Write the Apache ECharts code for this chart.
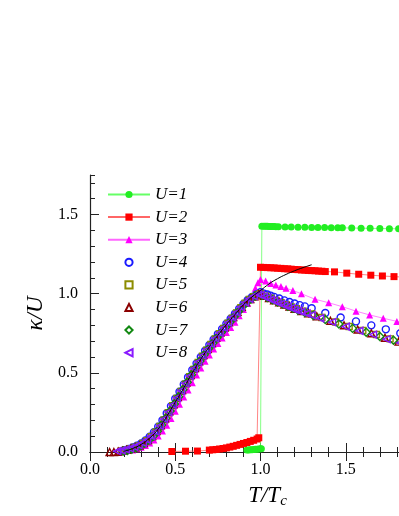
<!DOCTYPE html>
<html><head><meta charset="utf-8">
<script src="https://cdn.jsdelivr.net/npm/echarts@6/dist/echarts.min.js"></script>
<style>html,body{margin:0;padding:0;background:#fff;overflow:hidden;width:399px;height:516px}#c{width:434px;height:516px}</style>
</head><body><div id="c"></div>
<script>
// ---- data ----
const legendNames = ['U=1','U=2','U=3','U=4','U=5','U=6','U=7','U=8'];
const xTicks = [0.0, 0.5, 1.0, 1.5];
const yTicks = [0.0, 0.5, 1.0, 1.5];

const u1X = [0.92,0.93,0.94,0.95,0.96,0.97,0.98,0.99,1.0,1.005,1.008,1.02,1.03,1.04,1.05,1.06,1.07,1.08,1.09,1.105,1.144,1.18,1.22,1.26,1.30,1.337,1.376,1.415,1.453,1.48,1.535,1.59,1.643,1.70,1.756,1.81,1.865,1.92,1.975];
const u1Y = [0.012,0.013,0.014,0.015,0.016,0.017,0.018,0.019,0.02,0.02,1.427,1.427,1.426,1.426,1.425,1.425,1.424,1.424,1.423,1.423,1.422,1.421,1.42,1.42,1.419,1.418,1.418,1.417,1.416,1.416,1.415,1.414,1.413,1.412,1.411,1.41,1.409,1.408,1.407];

const u2X = [0.48,0.56,0.63,0.70,0.72,0.74,0.76,0.78,0.80,0.82,0.84,0.86,0.88,0.90,0.92,0.94,0.96,0.98,0.99,1.0,1.02,1.04,1.06,1.08,1.1,1.12,1.14,1.16,1.18,1.2,1.22,1.24,1.26,1.28,1.3,1.32,1.34,1.36,1.38,1.434,1.506,1.576,1.647,1.715,1.783,1.85,1.92,1.99];
const u2Y = [0.003,0.005,0.006,0.012,0.014,0.016,0.019,0.022,0.026,0.031,0.036,0.042,0.048,0.054,0.06,0.067,0.074,0.082,0.09,1.167,1.166,1.165,1.164,1.163,1.161,1.16,1.158,1.157,1.155,1.153,1.152,1.15,1.149,1.147,1.146,1.145,1.143,1.142,1.14,1.138,1.13,1.123,1.117,1.112,1.108,1.104,1.1,1.096];

const u3X = [0.25,0.275,0.3,0.325,0.35,0.375,0.4,0.425,0.45,0.475,0.5,0.525,0.55,0.575,0.6,0.625,0.65,0.675,0.7,0.725,0.75,0.775,0.8,0.825,0.85,0.875,0.9,0.925,0.95,0.97,0.985,1.0,1.03,1.06,1.09,1.12,1.15,1.19,1.24,1.32,1.40,1.48,1.56,1.64,1.72,1.80,1.88,1.96];
const u3Y = [0.012,0.02,0.03,0.041,0.057,0.076,0.101,0.132,0.169,0.212,0.257,0.302,0.347,0.392,0.438,0.486,0.531,0.573,0.613,0.65,0.686,0.721,0.755,0.787,0.82,0.86,0.90,0.94,0.985,1.035,1.07,1.09,1.08,1.065,1.055,1.045,1.035,1.02,1.0,0.965,0.943,0.918,0.89,0.866,0.845,0.825,0.805,0.785];

const u4X = [0.2,0.225,0.25,0.275,0.3,0.325,0.35,0.375,0.4,0.425,0.45,0.475,0.5,0.525,0.55,0.575,0.6,0.625,0.65,0.675,0.7,0.725,0.75,0.775,0.8,0.825,0.85,0.875,0.9,0.925,0.95,0.975,1.0,1.02,1.04,1.06,1.08,1.11,1.14,1.17,1.2,1.23,1.26,1.30,1.38,1.47,1.56,1.65,1.735,1.82];
const u4Y = [0.012,0.019,0.028,0.04,0.054,0.073,0.096,0.125,0.16,0.2,0.245,0.29,0.336,0.381,0.427,0.472,0.518,0.56,0.601,0.64,0.676,0.711,0.745,0.778,0.81,0.842,0.873,0.905,0.935,0.96,0.98,0.995,1.01,1.0,0.995,0.988,0.98,0.97,0.958,0.948,0.938,0.928,0.92,0.908,0.878,0.85,0.825,0.80,0.775,0.75];

const u5X = [0.185,0.21,0.235,0.26,0.285,0.31,0.335,0.36,0.385,0.41,0.435,0.46,0.485,0.51,0.535,0.56,0.585,0.61,0.635,0.66,0.685,0.71,0.735,0.76,0.785,0.81,0.835,0.86,0.885,0.91,0.935,0.96,0.985,1.0,1.03,1.06,1.09,1.12,1.15,1.18,1.21,1.25,1.3,1.36,1.44,1.52,1.6,1.68,1.76,1.84];
const u5Y = [0.006,0.012,0.019,0.028,0.039,0.054,0.072,0.096,0.125,0.161,0.203,0.248,0.293,0.338,0.383,0.429,0.476,0.522,0.565,0.605,0.643,0.679,0.714,0.748,0.781,0.813,0.846,0.878,0.911,0.94,0.963,0.981,0.994,1.0,0.985,0.971,0.958,0.944,0.93,0.917,0.905,0.89,0.872,0.85,0.821,0.793,0.768,0.742,0.715,0.69];

const u6X = [0.115,0.14,0.165,0.19,0.215,0.24,0.265,0.29,0.315,0.34,0.365,0.39,0.415,0.44,0.465,0.49,0.515,0.54,0.565,0.59,0.615,0.64,0.665,0.69,0.715,0.74,0.765,0.79,0.815,0.84,0.865,0.89,0.915,0.94,0.965,0.99,1.0,1.02,1.05,1.08,1.11,1.14,1.17,1.2,1.24,1.28,1.33,1.41,1.49,1.57,1.65,1.73,1.81];
const u6Y = [0.0,0.0,0.002,0.007,0.014,0.021,0.03,0.041,0.057,0.076,0.101,0.132,0.169,0.212,0.257,0.302,0.347,0.392,0.438,0.486,0.531,0.573,0.613,0.651,0.686,0.721,0.755,0.787,0.82,0.852,0.885,0.918,0.945,0.967,0.984,0.997,0.997,0.987,0.973,0.959,0.946,0.932,0.919,0.905,0.891,0.876,0.857,0.829,0.801,0.774,0.75,0.722,0.697];

const u7X = [0.195,0.22,0.245,0.27,0.295,0.32,0.345,0.37,0.395,0.42,0.445,0.47,0.495,0.52,0.545,0.57,0.595,0.62,0.645,0.67,0.695,0.72,0.745,0.77,0.795,0.82,0.845,0.87,0.895,0.92,0.945,0.97,1.01,1.04,1.07,1.10,1.13,1.16,1.19,1.22,1.26,1.31,1.38,1.46,1.54,1.62,1.70,1.78,1.86];
const u7Y = [0.006,0.01,0.017,0.027,0.039,0.055,0.075,0.1,0.131,0.17,0.214,0.259,0.304,0.349,0.394,0.441,0.488,0.532,0.575,0.614,0.652,0.687,0.722,0.755,0.788,0.82,0.853,0.886,0.919,0.946,0.968,0.985,0.99,0.976,0.962,0.948,0.935,0.921,0.908,0.896,0.882,0.863,0.837,0.809,0.781,0.757,0.73,0.706,0.68];

const u8X = [0.16,0.185,0.21,0.235,0.26,0.285,0.31,0.335,0.36,0.385,0.41,0.435,0.46,0.485,0.51,0.535,0.56,0.585,0.61,0.635,0.66,0.685,0.71,0.735,0.76,0.785,0.81,0.835,0.86,0.885,0.91,0.935,0.96,0.985,1.0,1.02,1.04,1.06,1.08,1.10,1.12,1.14,1.16,1.18,1.20,1.22,1.24,1.27,1.30,1.35,1.42,1.50,1.58,1.66,1.74,1.82];
const u8Y = [0.005,0.01,0.016,0.023,0.032,0.043,0.058,0.076,0.1,0.129,0.165,0.207,0.252,0.297,0.342,0.387,0.433,0.48,0.526,0.569,0.609,0.647,0.683,0.718,0.752,0.785,0.817,0.85,0.882,0.915,0.944,0.967,0.985,0.998,0.992,0.982,0.973,0.963,0.954,0.945,0.936,0.927,0.918,0.909,0.90,0.893,0.886,0.875,0.864,0.845,0.82,0.792,0.766,0.742,0.713,0.69];

const fitX = [0.2,0.25,0.3,0.35,0.4,0.45,0.5,0.55,0.6,0.65,0.7,0.75,0.8,0.85,0.9,0.95,1.0,1.05,1.1,1.15,1.2,1.25,1.3];
const fitY = [0.005,0.022,0.048,0.088,0.145,0.225,0.315,0.405,0.5,0.587,0.665,0.737,0.805,0.868,0.93,0.98,1.02,1.062,1.095,1.122,1.145,1.165,1.183];

// ---- chart ----
const zip = (xs, ys) => xs.map((x, i) => [x, ys[i]]);
const SERIF = 'Liberation Serif';
const axisCol = '#222';

function lineSeries(name, xs, ys, symbol, color, lineColor) {
  return { name, type: 'line', data: zip(xs, ys), symbol, symbolSize: 7, showAllSymbol: true,
    itemStyle: { color }, lineStyle: { color: lineColor, width: 0.8 }, emphasis: { disabled: true } };
}
function openSeries(name, xs, ys, symbol, color, size, rot) {
  return { name, type: 'line', data: zip(xs, ys), symbol, symbolSize: size, symbolRotate: rot || 0,
    showAllSymbol: true,
    lineStyle: { width: 0, opacity: 0, color: 'rgba(0,0,0,0)' },
    itemStyle: { color: 'rgba(0,0,0,0)', borderColor: color, borderWidth: 1.4 }, emphasis: { disabled: true } };
}

const tickStyle = { color: axisCol, width: 1 };
const chart = echarts.init(document.getElementById('c'), null, { renderer: 'canvas' });
chart.setOption({
  animation: false,
  backgroundColor: '#fff',
  grid: { left: 90, right: 0, top: 175, bottom: 64 },
  legend: {
    data: legendNames, orient: 'vertical', left: 102, top: 181,
    itemWidth: 42, itemHeight: 9, itemGap: 5.6, selectedMode: false,
    textStyle: { fontFamily: SERIF, fontStyle: 'italic', fontSize: 17, color: '#000' }
  },
  xAxis: [{
    type: 'value', min: 0, max: 2.0, interval: 0.5, position: 'bottom',
    axisLine: { lineStyle: { color: axisCol, width: 1.2 } },
    axisTick: { inside: true, length: 9, lineStyle: tickStyle },
    minorTick: { show: true, splitNumber: 5, length: 5, lineStyle: tickStyle },
    splitLine: { show: false },
    axisLabel: { fontFamily: SERIF, fontSize: 16, color: '#000', margin: 10,
      formatter: v => (xTicks.indexOf(v) >= 0 ? v.toFixed(1) : '') },
    name: '{t|T/T}{s|c}', nameLocation: 'middle', nameGap: 27,
    nameTextStyle: { padding: [0, 0, 0, 14], rich: {
      t: { fontFamily: SERIF, fontStyle: 'italic', fontSize: 23, color: '#000', lineHeight: 23 },
      s: { fontFamily: SERIF, fontStyle: 'italic', fontSize: 15, color: '#000', lineHeight: 15, padding: [11, 0, 0, 0] }
    } }
  }, {
    type: 'value', min: 0, max: 2.0, interval: 0.5, position: 'top',
    axisLine: { lineStyle: { color: axisCol, width: 1.2 } },
    axisTick: { inside: true, length: 9, lineStyle: tickStyle },
    minorTick: { show: true, splitNumber: 5, length: 5, lineStyle: tickStyle },
    splitLine: { show: false }, axisLabel: { show: false }
  }],
  yAxis: [{
    type: 'value', min: 0, max: 1.75, interval: 0.5, position: 'left',
    axisLine: { lineStyle: { color: axisCol, width: 1.2 } },
    axisTick: { inside: true, length: 9, lineStyle: tickStyle },
    splitLine: { show: false },
    axisLabel: { fontFamily: SERIF, fontSize: 16, color: '#000', margin: 12, showMaxLabel: false,
      formatter: v => (yTicks.indexOf(v) >= 0 ? v.toFixed(1) : '') },
    name: 'κ/U', nameLocation: 'middle', nameGap: 38,
    nameTextStyle: { fontFamily: SERIF, fontStyle: 'italic', fontSize: 23, color: '#000' }
  }, {
    type: 'value', min: 0, max: 1.75, interval: 0.1, position: 'left',
    axisLine: { show: false },
    axisTick: { inside: true, length: 5, lineStyle: tickStyle },
    splitLine: { show: false }, axisLabel: { show: false }
  }],
  series: [
    lineSeries('U=1', u1X, u1Y, 'circle', '#22ee22', '#66ff66'),
    lineSeries('U=2', u2X, u2Y, 'rect', '#ff0000', '#ff6666'),
    lineSeries('U=3', u3X, u3Y, 'triangle', '#ff00ff', '#ff66ff'),
    openSeries('U=4', u4X, u4Y, 'circle', '#1a1aff', 7),
    openSeries('U=5', u5X, u5Y, 'rect', '#8c8c00', 6),
    openSeries('U=6', u6X, u6Y, 'triangle', '#8b0000', 7),
    openSeries('U=7', u7X, u7Y, 'diamond', '#118811', 8),
    openSeries('U=8', u8X, u8Y, 'triangle', '#8a1aff', 7, 90),
    { name: 'fit', type: 'line', data: zip(fitX, fitY), symbol: 'none', smooth: true,
      lineStyle: { color: '#000', width: 1 }, emphasis: { disabled: true }, z: 5 }
  ]
});
</script></body></html>
